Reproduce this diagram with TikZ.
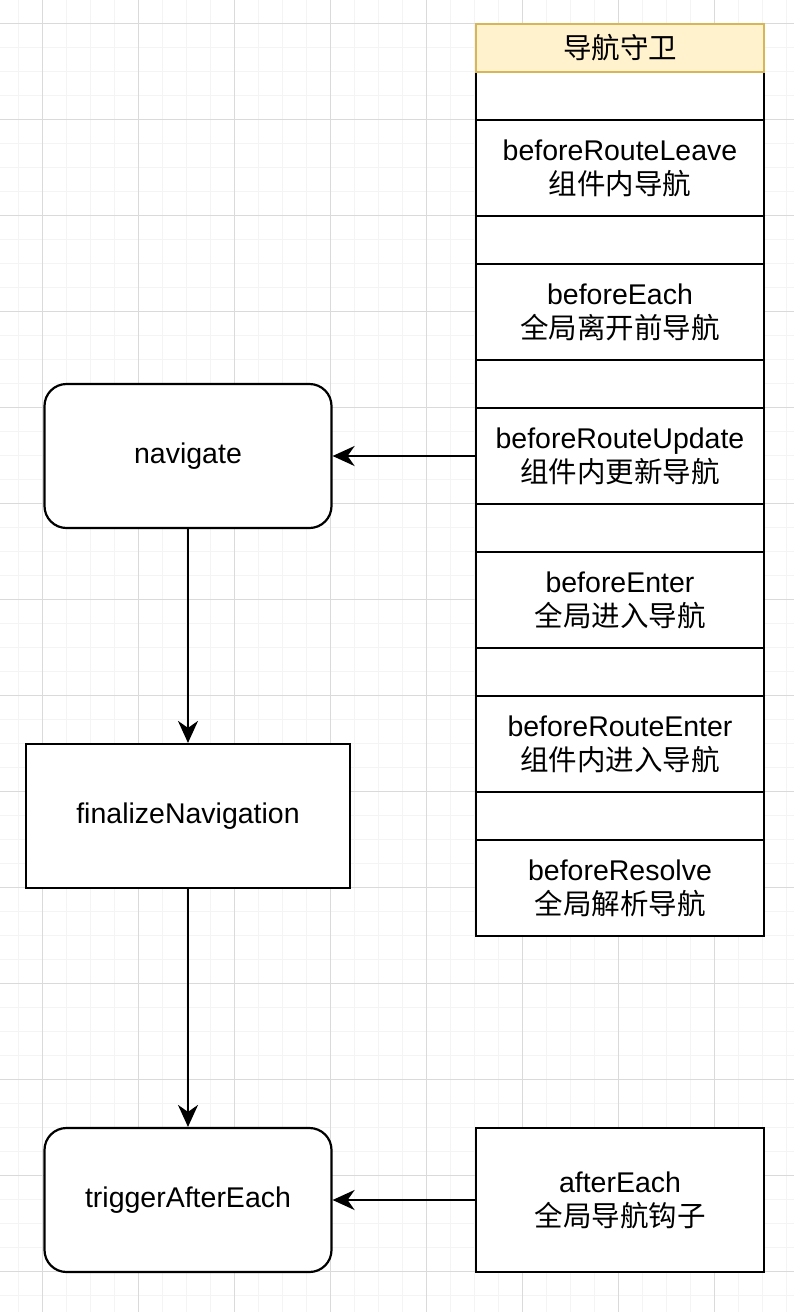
\documentclass[tikz,border=0pt]{standalone}
\usepackage{fontspec}
\setmainfont{Liberation Sans}
\newfontfamily\cjk{Noto Sans CJK SC}
\usepackage{xcolor}
\usepackage{tikz}
\usetikzlibrary{arrows.meta, positioning}

\definecolor{headfill}{HTML}{FFF2CC}
\definecolor{headline}{HTML}{D6B656}
\definecolor{gridmajor}{HTML}{DADADA}
\definecolor{gridminor}{HTML}{F4F4F4}

\begin{document}
\begin{tikzpicture}[x=1pt, y=-1pt,
  arrow/.style={-{Stealth[length=22pt, width=20pt, inset=7pt]}, line width=2.2pt, black},
  minorgrid/.style={line width=1pt, gridminor},
  majorgrid/.style={line width=1pt, gridmajor},
  stepnode/.style={rectangle, rounded corners=22pt, draw=black, line width=2.2pt, fill=white, minimum width=287pt, minimum height=144pt, inner sep=0pt, align=center, font=\fontsize{28.5}{34}\selectfont},
  flatnode/.style={stepnode, rounded corners=0pt, minimum width=324pt},
  guard/.style={rectangle, draw=black, line width=2.2pt, fill=white, minimum width=288pt, minimum height=96pt, inner sep=0pt, align=center, font=\fontsize{28.5}{34}\selectfont},
  gap/.style={guard, minimum height=48pt},
  header/.style={guard, minimum height=48pt, fill=headfill, draw=headline}
]
\useasboundingbox (0,0) rectangle (794,1312);
\fill[white] (0,0) rectangle (794,1312);
% background grid
\foreach \i in {0,...,32} \draw[minorgrid] ({18.5+24*\i},0) -- ({18.5+24*\i},1312);
\foreach \i in {0,...,54} \draw[minorgrid] (0,{-0.5+24*\i}) -- (794,{-0.5+24*\i});
\foreach \i in {0,...,8} \draw[majorgrid] ({42.5+96*\i},0) -- ({42.5+96*\i},1312);
\foreach \i in {0,...,13} \draw[majorgrid] (0,{23.5+96*\i}) -- (794,{23.5+96*\i});

% guard column
\foreach \y in {96,240,384,528,672,816} \node[gap] at (620,\y) {};
\node[guard] (leave) at (620,168) {beforeRouteLeave\\{\cjk 组件内导航}};
\node[guard] (each) at (620,312) {beforeEach\\{\cjk 全局离开前导航}};
\node[guard] (update) at (620,456) {beforeRouteUpdate\\{\cjk 组件内更新导航}};
\node[guard] (enter) at (620,600) {beforeEnter\\{\cjk 全局进入导航}};
\node[guard] (routeenter) at (620,744) {beforeRouteEnter\\{\cjk 组件内进入导航}};
\node[guard] (resolve) at (620,888) {beforeResolve\\{\cjk 全局解析导航}};
\node[header] (title) at (620,48) {\cjk 导航守卫};

% flow
\node[stepnode] (navigate) at (188,456) {navigate};
\node[flatnode] (finalize) at (188,816) {finalizeNavigation};
\node[stepnode] (trigger) at (188,1200) {triggerAfterEach};
\node[guard, minimum height=144pt] (aftereach) at (620,1200) {afterEach\\{\cjk 全局导航钩子}};

\draw[arrow] (update.west) -- (navigate.east);
\draw[arrow] (navigate.south) -- (finalize.north);
\draw[arrow] (finalize.south) -- (trigger.north);
\draw[arrow] (aftereach.west) -- (trigger.east);
\end{tikzpicture}
\end{document}
